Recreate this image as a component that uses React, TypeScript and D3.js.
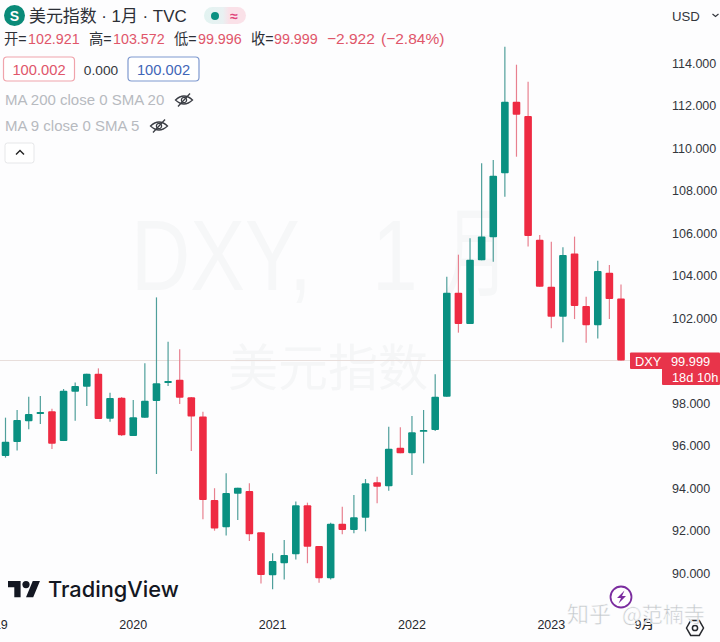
import React from 'react';
import * as d3 from 'd3';

// monthly DXY candles, Feb 2019 to Jul 2023
const opens = [95.51, 96.16, 97.14, 97.48, 97.61, 96.21, 98.53, 98.77, 99.38, 97.26, 98.25, 96.45, 97.31, 98.09, 98.94, 99.10, 98.27, 97.36, 93.44, 92.15, 93.73, 93.86, 91.92, 89.89, 90.46, 90.88, 93.19, 91.27, 89.75, 92.32, 92.02, 92.60, 94.27, 94.08, 95.90, 95.63, 96.65, 96.73, 98.30, 103.19, 101.72, 104.72, 105.80, 108.81, 112.18, 111.51, 105.68, 103.47, 102.06, 105.04, 102.56, 101.66, 104.13, 102.921];
const highs = [97.31, 97.67, 98.30, 98.33, 97.73, 98.66, 98.96, 99.38, 99.63, 98.48, 98.28, 98.14, 99.87, 102.97, 100.88, 100.53, 98.28, 97.59, 93.99, 94.69, 94.01, 94.22, 91.92, 90.93, 91.55, 93.36, 93.31, 91.27, 92.37, 93.12, 93.67, 94.42, 94.53, 96.88, 96.86, 97.39, 97.67, 99.35, 103.94, 104.98, 105.75, 109.28, 109.44, 114.77, 113.92, 113.12, 105.91, 105.59, 105.33, 105.83, 103.00, 104.70, 104.49, 103.572];
const lows = [95.43, 95.76, 96.76, 97.01, 95.84, 96.21, 97.17, 97.86, 97.25, 97.12, 96.45, 96.45, 97.31, 94.66, 98.80, 97.95, 95.74, 92.53, 91.99, 91.76, 92.49, 91.51, 89.51, 89.23, 89.70, 90.64, 90.46, 89.54, 89.70, 91.82, 91.87, 91.96, 93.28, 93.87, 95.63, 94.61, 95.16, 96.68, 98.30, 101.31, 101.72, 104.72, 104.65, 107.71, 109.59, 105.36, 103.47, 101.52, 100.86, 101.95, 100.84, 101.04, 101.95, 99.996];
const closes = [96.18, 97.20, 97.48, 97.58, 96.08, 98.58, 98.80, 99.38, 97.25, 98.24, 96.48, 97.33, 98.11, 98.93, 99.04, 98.25, 97.36, 93.44, 92.10, 93.76, 94.01, 91.82, 89.91, 90.56, 90.85, 93.19, 91.24, 89.75, 92.32, 92.02, 92.62, 94.22, 94.06, 95.85, 95.63, 96.62, 96.73, 98.30, 103.19, 101.72, 104.74, 105.83, 108.70, 112.18, 111.57, 105.86, 103.47, 102.06, 104.96, 102.56, 101.66, 104.21, 102.89, 99.999];

const priceTicks = [90, 92, 94, 96, 98, 102, 104, 106, 108, 110, 112, 114]; // 100 is covered by the DXY tag
const timeLabels = ['2019', '2020', '2021', '2022', '2023', '9月'];
const timeIndex = [-1, 11, 23, 35, 47, 55];
const lastPrice = 99.999;

const width = 720;
const height = 642;
const green = '#0a9081';
const red = '#ee2a42';
const latin = '"Liberation Sans", Arial, sans-serif';
const cjk = '"Liberation Sans", "Noto Sans CJK SC", sans-serif';
const legendRed = '#e0566a';

const x = d3.scaleLinear().domain([0, 53]).range([5.5, 621]);
const y = d3.scaleLinear().domain([90, 114]).range([573, 63]);

const EyeOff: React.FC<{ cx: number; cy: number }> = ({ cx, cy }) => (
  <g transform={`translate(${cx},${cy})`} fill="none" stroke="#3a3d44" strokeWidth={1.3}>
    <path d="M-8.5,0 Q0,-8 8.5,0 Q0,8 -8.5,0 Z" />
    <circle r={2.6} />
    <path d="M-6,6.5 L6,-6.5" />
  </g>
);

const App: React.FC = () => {
  const bodyWidth = 7.6;
  return (
    <div style={{ position: 'absolute', left: 0, top: 0 }}>
      <svg width={width} height={height} viewBox={`0 0 ${width} ${height}`} style={{ display: 'block', background: '#fdfdfe' }}>
        <defs>
          <linearGradient id="pill" x1="0" x2="1" y1="0" y2="0">
            <stop offset="0" stopColor="#e2f3f1" />
            <stop offset="0.45" stopColor="#e9f1f2" />
            <stop offset="0.6" stopColor="#fae1e8" />
            <stop offset="1" stopColor="#fae1e8" />
          </linearGradient>
        </defs>

        {/* watermark */}
        <g fontFamily={cjk} fill="#f6f7f8">
          <text transform="translate(131,290) scale(0.82,1)" fontSize={100}>DXY,</text>
          <text transform="translate(372,290) scale(0.82,1)" fontSize={100}>1</text>
          <text transform="translate(444,288) scale(0.66,1)" fontSize={98}>月</text>
          <text x={228} y={386} fontSize={50} fill="#f5f6f7">美元指数</text>
        </g>

        {/* last price line */}
        <line x1={0} x2={630} y1={y(lastPrice)} y2={y(lastPrice)} stroke="#e8dedb" strokeWidth={1} />

        {/* candles */}
        {closes.map((c, i) => {
          const o = opens[i];
          const up = c >= o;
          const top = y(Math.max(o, c));
          const bottom = y(Math.min(o, c));
          return (
            <g key={i}>
              <line x1={x(i)} x2={x(i)} y1={y(highs[i])} y2={y(lows[i])} stroke={up ? '#4f9f9b' : '#e8808f'} strokeWidth={1.2} />
              <rect x={x(i) - bodyWidth / 2} y={top} width={bodyWidth} height={Math.max(bottom - top, 1.8)} rx={1} fill={up ? green : red} />
            </g>
          );
        })}

        {/* price axis */}
        <g fontFamily={latin} fontSize={12.5} fill="#33363c">
          {priceTicks.map(t => (
            <text key={t} x={672} y={y(t)} dy="0.36em">{t.toFixed(3)}</text>
          ))}
        </g>

        {/* price tag */}
        <rect x={662} y={367} width={58} height={18} rx={1} fill="#e8344a" />
        <rect x={630} y={352.5} width={90} height={16.5} rx={1} fill="#e8344a" />
        <g fontFamily={latin} fontSize={12.8} fill="#fff">
          <text x={635} y={361} dy="0.36em">DXY</text>
          <text x={671} y={361} dy="0.36em">{lastPrice.toFixed(3)}</text>
          <text x={672} y={377.5} dy="0.36em">18d 10h</text>
        </g>

        {/* time axis */}
        <g fontFamily={cjk} fontSize={12.5} fill="#26282d" textAnchor="middle" fontWeight={500}>
          {timeLabels.map((l, i) => (
            <text key={l} x={x(timeIndex[i])} y={628.5}>{l}</text>
          ))}
        </g>

        {/* header */}
        <circle cx={14.5} cy={15.5} r={10.5} fill="#0a8a78" />
        <text x={14.5} y={20.5} textAnchor="middle" fontFamily={latin} fontSize={14} fontWeight={700} fill="#fff">S</text>
        <text x={29} y={21.5} fontFamily={cjk} fontSize={16.9} fill="#2c2f36">美元指数 · 1月 · TVC</text>
        <rect x={204} y={7} width={42} height={17} rx={8.5} fill="url(#pill)" />
        <circle cx={215} cy={16} r={4} fill={green} />
        <text x={234} y={20.5} textAnchor="middle" fontFamily={latin} fontSize={14} fontWeight={700} fill="#e0447a">≈</text>

        <g fontFamily={cjk} fontSize={14.3}>
          <text x={4} y={44} fill="#2c2f36">开=</text>
          <text x={28} y={44} fill={legendRed}>102.921</text>
          <text x={89} y={44} fill="#2c2f36">高=</text>
          <text x={113} y={44} fill={legendRed}>103.572</text>
          <text x={174} y={44} fill="#2c2f36">低=</text>
          <text x={198} y={44} fill={legendRed}>99.996</text>
          <text x={251} y={44} fill="#2c2f36">收=</text>
          <text x={274} y={44} fill={legendRed}>99.999</text>
          <text x={327} y={44} fontSize={15.5} fill={legendRed}>−2.922</text>
          <text x={381} y={44} fontSize={15.5} fill={legendRed}>(−2.84%)</text>
        </g>

        {/* buy / sell boxes */}
        <rect x={3.5} y={57} width={71} height={24} rx={3.5} fill="#fff" stroke="#f0a3ab" strokeWidth={1.2} />
        <text x={39} y={74.5} textAnchor="middle" fontFamily={latin} fontSize={14.7} fill={legendRed}>100.002</text>
        <text x={101} y={74.5} textAnchor="middle" fontFamily={latin} fontSize={13.7} fill="#33363c">0.000</text>
        <rect x={128} y={57} width={71} height={24} rx={3.5} fill="#fff" stroke="#7f99cf" strokeWidth={1.2} />
        <text x={163.5} y={74.5} textAnchor="middle" fontFamily={latin} fontSize={14.7} fill="#3f66b8">100.002</text>

        {/* hidden indicators */}
        <g fontFamily={latin} fontSize={15} fill="#b7bac0">
          <text x={5} y={105}>MA 200 close 0 SMA 20</text>
          <text x={5} y={131}>MA 9 close 0 SMA 5</text>
        </g>
        <EyeOff cx={184} cy={100} />
        <EyeOff cx={159} cy={126} />
        <rect x={5} y={143} width={29} height={20} rx={2.5} fill="#fff" stroke="#e6e7e9" />
        <path d="M16,154.5 L20,150.5 L24,154.5" fill="none" stroke="#222" strokeWidth={1.4} />

        {/* currency */}
        <text x={672} y={21} fontFamily={latin} fontSize={13.2} fill="#33363c">USD</text>
        <path d="M712.5,14 L715.5,16.5 L718.5,14" fill="none" stroke="#33363c" strokeWidth={1.2} />

        {/* logo */}
        <g transform="translate(8,577.4) scale(0.9)" fill="#131722">
          <path d="M14 22H7V11H0V4h14v18zM28 22h-8l7.5-18h8L28 22z" />
          <circle cx={20} cy={8} r={4} />
        </g>
        <text x={48} y={597} fontFamily="Inter, sans-serif" fontSize={21.8} fontWeight={500} fill="#131722">TradingView</text>

        {/* alert icon */}
        <circle cx={621} cy={597} r={10.5} fill="#fff" stroke="#7b2d9f" strokeWidth={1.8} />
        <path d="M624.5,590.5 L617,598 L621,598 L618.5,603.5 L626,596 L622,596 Z" fill="#7b2d9f" />

        {/* settings */}
        <path d="M686.5,628 L690.7,620.6 L699.3,620.6 L703.5,628 L699.3,635.4 L690.7,635.4 Z" fill="none" stroke="#26282d" strokeWidth={1.5} />
        <circle cx={695} cy={628} r={2.6} fill="none" stroke="#26282d" strokeWidth={1.5} />

        {/* zhihu mark */}
        <text x={567} y={622} fontFamily='"Noto Sans CJK SC", sans-serif' fontSize={22} fill="#c4c8cc" stroke="#fff" strokeWidth={0.5}>知乎</text>
        <text x={622} y={622} fontFamily='"Noto Sans CJK SC", sans-serif' fontSize={21} fill="#c4c8cc" stroke="#fff" strokeWidth={0.5}>@范楠寺</text>
      </svg>
    </div>
  );
};

export default App;
